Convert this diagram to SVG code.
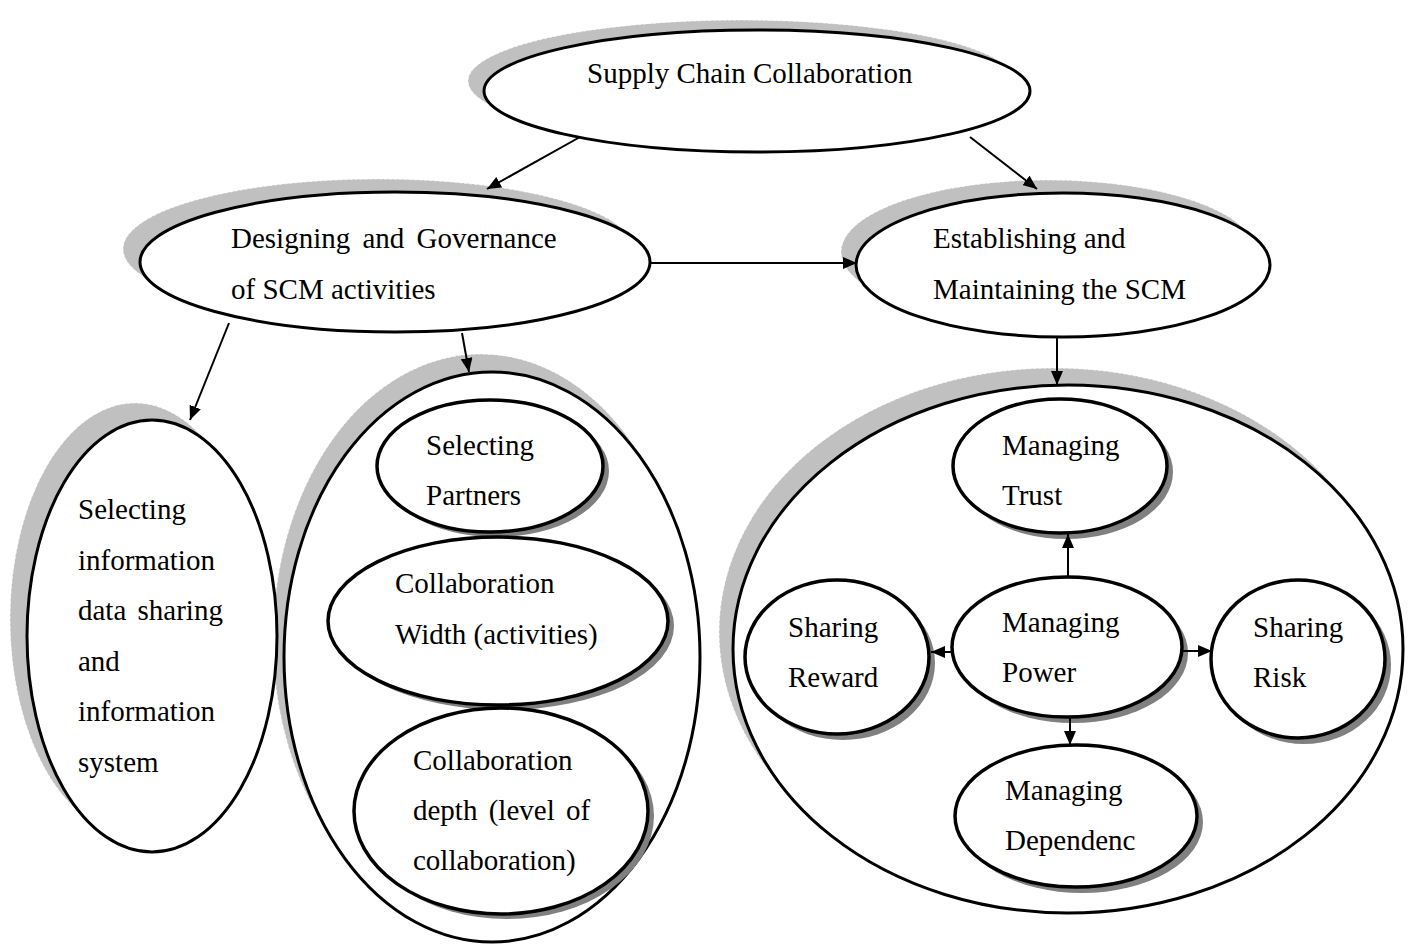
<svg xmlns="http://www.w3.org/2000/svg" width="1414" height="944" viewBox="0 0 1414 944">
  <style>
    .sh { fill: #c0c0c0; stroke: #ffffff; stroke-width: 0.8; stroke-dasharray: 3 2; }
    .sh2 { fill: #808080; stroke: none; }
    .nd { fill: #ffffff; stroke: #000000; stroke-width: 3; }
    .in { fill: #ffffff; stroke: #000000; stroke-width: 3.5; }
    .cn { fill: none; stroke: #000000; stroke-width: 2; }
    text { font-family: "Liberation Serif", "Times New Roman", serif; font-size: 29px; fill: #000000; }
  </style>
  <defs>
    <marker id="ah" markerUnits="userSpaceOnUse" markerWidth="14" markerHeight="12" refX="14" refY="6" orient="auto">
      <path d="M0,0 L14,6 L0,12 z" fill="#000000"/>
    </marker>
  </defs>
  <rect width="1414" height="944" fill="#ffffff"/>

  <g id="supply-chain-collaboration">
    <ellipse class="sh" cx="741" cy="81" rx="273" ry="61"/>
    <ellipse class="nd" cx="757" cy="91" rx="273" ry="61"/>
    <text x="587" y="83">Supply Chain Collaboration</text>
  </g>

  <g id="designing-governance">
    <ellipse class="sh" cx="378" cy="249" rx="255" ry="70"/>
    <ellipse class="nd" cx="395" cy="262" rx="255" ry="70"/>
    <text x="231" y="248" word-spacing="5">Designing and Governance</text>
    <text x="231" y="299">of SCM activities</text>
  </g>

  <g id="establishing-maintaining">
    <ellipse class="sh" cx="1048" cy="252" rx="207" ry="72"/>
    <ellipse class="nd" cx="1063" cy="265" rx="207" ry="72"/>
    <text x="933" y="248">Establishing and</text>
    <text x="933" y="299">Maintaining the SCM</text>
  </g>

  <g id="middle-container">
    <ellipse class="sh" cx="481" cy="639" rx="208" ry="285"/>
    <ellipse class="nd" cx="492" cy="657" rx="208" ry="285"/>
  </g>

  <g id="selecting-information">
    <ellipse class="sh" cx="135" cy="619" rx="125" ry="216"/>
    <ellipse class="nd" cx="152" cy="636" rx="125" ry="216"/>
    <text x="78" y="519">Selecting</text>
    <text x="78" y="570">information</text>
    <text x="78" y="620" word-spacing="4">data sharing</text>
    <text x="78" y="671">and</text>
    <text x="78" y="721">information</text>
    <text x="78" y="772">system</text>
  </g>

  <g id="selecting-partners">
    <ellipse class="sh2" cx="496" cy="471" rx="113" ry="66"/>
    <ellipse class="in" cx="490" cy="466" rx="113" ry="66"/>
    <text x="426" y="455">Selecting</text>
    <text x="426" y="505">Partners</text>
  </g>

  <g id="collaboration-width">
    <ellipse class="sh2" cx="504" cy="626" rx="170" ry="84"/>
    <ellipse class="in" cx="498" cy="621" rx="170" ry="84"/>
    <text x="395" y="593">Collaboration</text>
    <text x="395" y="644">Width (activities)</text>
  </g>

  <g id="collaboration-depth">
    <ellipse class="sh2" cx="507" cy="816" rx="147" ry="103"/>
    <ellipse class="in" cx="501" cy="811" rx="147" ry="103"/>
    <text x="413" y="770">Collaboration</text>
    <text x="413" y="820" word-spacing="4">depth (level of</text>
    <text x="413" y="870">collaboration)</text>
  </g>

  <g id="right-container">
    <ellipse class="sh" cx="1054" cy="632" rx="335" ry="264"/>
    <ellipse class="nd" cx="1068" cy="649" rx="335" ry="264"/>
  </g>

  <g id="managing-trust">
    <ellipse class="sh2" cx="1066" cy="472" rx="107" ry="67"/>
    <ellipse class="in" cx="1060" cy="466" rx="107" ry="67"/>
    <text x="1002" y="455">Managing</text>
    <text x="1002" y="505">Trust</text>
  </g>

  <g id="managing-power">
    <ellipse class="sh2" cx="1073" cy="653" rx="115" ry="70"/>
    <ellipse class="in" cx="1067" cy="647" rx="115" ry="70"/>
    <text x="1002" y="632">Managing</text>
    <text x="1002" y="682">Power</text>
  </g>

  <g id="sharing-reward">
    <ellipse class="sh2" cx="843" cy="663" rx="92" ry="77"/>
    <ellipse class="in" cx="837" cy="657" rx="92" ry="77"/>
    <text x="788" y="637">Sharing</text>
    <text x="788" y="687">Reward</text>
  </g>

  <g id="sharing-risk">
    <ellipse class="sh2" cx="1304" cy="665" rx="87" ry="79"/>
    <ellipse class="in" cx="1298" cy="659" rx="87" ry="79"/>
    <text x="1253" y="637">Sharing</text>
    <text x="1253" y="687">Risk</text>
  </g>

  <g id="managing-dependenc">
    <ellipse class="sh2" cx="1082" cy="822" rx="121" ry="71"/>
    <ellipse class="in" cx="1076" cy="816" rx="121" ry="71"/>
    <text x="1005" y="800">Managing</text>
    <text x="1005" y="850">Dependenc</text>
  </g>

  <g id="connectors">
    <line class="cn" x1="580" y1="137" x2="487" y2="189" marker-end="url(#ah)"/>
    <line class="cn" x1="970" y1="137" x2="1037" y2="189" marker-end="url(#ah)"/>
    <line class="cn" x1="650" y1="263" x2="857" y2="263" marker-end="url(#ah)"/>
    <line class="cn" x1="229" y1="323" x2="190" y2="420" marker-end="url(#ah)"/>
    <line class="cn" x1="462" y1="333" x2="469" y2="372" marker-end="url(#ah)"/>
    <line class="cn" x1="1057" y1="337" x2="1057" y2="385" marker-end="url(#ah)"/>
    <line class="cn" x1="1068" y1="577" x2="1068" y2="534" marker-end="url(#ah)"/>
    <line class="cn" x1="953" y1="652" x2="931" y2="652" marker-end="url(#ah)"/>
    <line class="cn" x1="1182" y1="651" x2="1212" y2="651" marker-end="url(#ah)"/>
    <line class="cn" x1="1070" y1="717" x2="1070" y2="745" marker-end="url(#ah)"/>
  </g>
</svg>
